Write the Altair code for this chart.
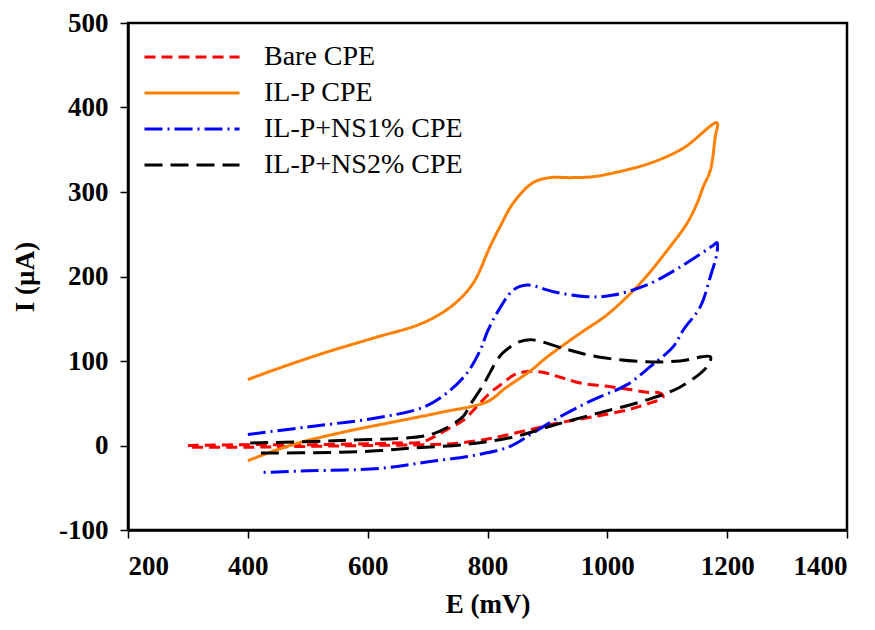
import altair as alt
import pandas as pd

series_names = ["Bare CPE", "IL-P CPE", "IL-P+NS1% CPE", "IL-P+NS2% CPE"]
series_colors = ["#FF0000", "#FF8000", "#0000FF", "#000000"]
series_dashes = [[11, 6], [1, 0], [18, 5, 2, 5], [18, 8]]

# Bare CPE (red dashed)
bare_x = [300, 400, 500, 600, 650, 690, 710, 735, 760, 782, 804, 826, 843, 860, 890, 920, 955,
          1000, 1040, 1066, 1088, 1093, 1070, 1033, 976, 921, 866, 810, 754, 700, 600, 500, 400, 300]
bare_y = [0, 1, 1, 2, 3, 4, 10, 20, 30, 46, 62, 74, 83, 87, 87, 81, 74,
          70, 66, 63, 62, 57, 50, 42, 34, 27, 18, 9, 3, 1, 0, -1, -2, -2]

# IL-P CPE (orange solid)
ilp_x = [400, 442, 525, 609, 692, 742, 776, 804, 821, 843, 876, 904, 940, 975, 1000, 1071, 1127, 1183,
         1180, 1172, 1160, 1150, 1133, 1100, 1055, 1000, 955, 900, 871, 830, 800, 721, 637, 554, 470, 400]
ilp_y = [78, 89, 109, 127, 145, 166, 192, 235, 259, 287, 311, 317, 317, 318, 321, 334, 352, 382,
         365, 326, 306, 287, 263, 231, 192, 155, 133, 105, 88, 68, 52, 39, 27, 15, 0, -18]

# IL-P+NS1% CPE (blue dash-dot)
ns1_x = [400, 499, 609, 692, 732, 766, 788, 800, 816, 843, 866, 910, 966, 1010, 1066, 1121, 1177, 1183,
         1183, 1172, 1155, 1127, 1110, 1071, 1033, 976, 921, 876, 838, 783, 704, 621, 500, 420]
ns1_y = [13, 22, 32, 45, 62, 86, 113, 135, 157, 184, 190, 182, 176, 178, 190, 211, 237, 240,
         228, 200, 164, 137, 117, 93, 72, 54, 34, 15, -1, -11, -19, -27, -30, -32]

# IL-P+NS2% CPE (black dashed)
ns2_x = [404, 554, 699, 732, 760, 771, 793, 816, 826, 854, 876, 926, 983, 1066, 1121, 1172,
         1166, 1121, 1066, 983, 910, 843, 760, 676, 621, 554, 409]
ns2_y = [3, 6, 12, 21, 35, 48, 72, 101, 110, 123, 125, 115, 105, 99, 100, 105,
         93, 69, 54, 38, 24, 10, 1, -3, -6, -8, -9]

x_ticks = [200, 400, 600, 800, 1000, 1200, 1400]
y_ticks = [-100, 0, 100, 200, 300, 400, 500]

rows = []
for name, xs, ys in [
    ("Bare CPE", bare_x, bare_y),
    ("IL-P CPE", ilp_x, ilp_y),
    ("IL-P+NS1% CPE", ns1_x, ns1_y),
    ("IL-P+NS2% CPE", ns2_x, ns2_y),
]:
    for i, (xv, yv) in enumerate(zip(xs, ys)):
        rows.append({"series": name, "E": xv, "I": yv, "idx": i})
df = pd.DataFrame(rows)

FONT = "Liberation Serif"

chart = alt.Chart(df).mark_line(strokeWidth=3, interpolate="catmull-rom").encode(
    x=alt.X("E:Q", scale=alt.Scale(domain=[200, 1400], nice=False, zero=False),
            axis=alt.Axis(values=x_ticks, title="E (mV)", labelExpr="'' + datum.value",
                          titlePadding=12, labelPadding=15)),
    y=alt.Y("I:Q", scale=alt.Scale(domain=[-100, 500], nice=False, zero=False),
            axis=alt.Axis(values=y_ticks, title="I (µA)", labelExpr="'' + datum.value",
                          titlePadding=19, labelPadding=12)),
    color=alt.Color("series:N",
                    scale=alt.Scale(domain=series_names, range=series_colors),
                    legend=alt.Legend(title=None, orient="none", legendX=50, legendY=20,
                                      symbolType="M-4,0L4,0", symbolSize=564,
                                      symbolStrokeWidth=3, labelFont=FONT, labelFontSize=28,
                                      labelColor="black", labelOffset=58, rowPadding=8,
                                      labelLimit=400)),
    strokeDash=alt.StrokeDash("series:N",
                              scale=alt.Scale(domain=series_names, range=series_dashes),
                              legend=None),
    order="idx:Q",
).properties(
    width=719, height=507,
    autosize=alt.AutoSizeParams(type="none"),
    padding={"left": 120, "top": 15, "right": 20, "bottom": 92},
).configure_view(
    stroke="black", strokeWidth=2.5,
).configure_axis(
    grid=False,
    domainColor="black", domainWidth=2.5,
    tickColor="black", tickWidth=1.5, tickSize=8,
    labelFont=FONT, labelFontSize=27, labelFontWeight="bold", labelColor="black",
    titleFont=FONT, titleFontSize=27, titleFontWeight="bold", titleColor="black",
)

chart.save("out.html", embed_options={"renderer": "svg", "actions": False})
